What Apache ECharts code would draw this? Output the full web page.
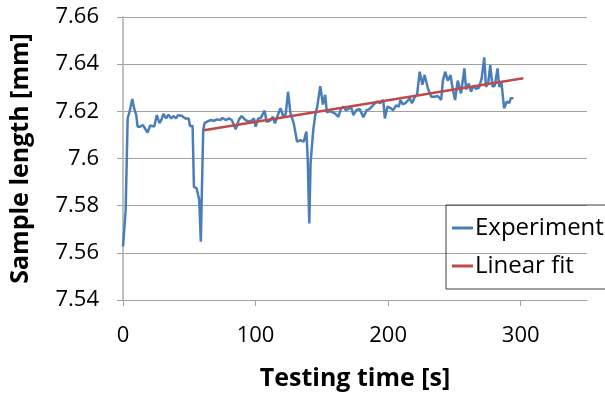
<!DOCTYPE html>
<html>
<head>
<meta charset="utf-8">
<script src="https://cdn.jsdelivr.net/npm/echarts@6/dist/echarts.min.js"></script>
<style>
  html, body { margin: 0; padding: 0; background: #fff; }
  #chart { width: 605px; height: 396px; }
</style>
</head>
<body>
<div id="chart"></div>
<script>
// testing time [s]
const timeData = [
  0, 2, 3.5, 5, 7, 8.5, 10, 11, 13, 15, 16.5, 18.5, 20.5, 22, 23.5, 25.5, 27.5, 29, 30.5, 32.5,
  34.3, 36.3, 38, 40, 41.5, 43, 44.5, 47, 49.5, 50.5, 52.5, 53.5, 55.5, 57.5, 58.7, 60.5, 61.5, 63.5,
  66, 68.5, 71, 73.5, 75, 77.5, 80, 82, 83.7, 85, 87.5, 89.5, 92.5, 95, 97, 98.8, 100, 102, 104,
  106.8, 108.3, 110.8, 113, 114.7, 116.5, 118.8, 121, 122.8, 124.5, 126.3, 128.8, 131.3, 133.8,
  136.3, 138.3, 139.3, 140.5, 141.5, 143.5, 145, 146.5, 148.8, 150.8, 152.5, 153.8, 155.5, 157.5,
  160, 162.5, 164.5, 166.3, 168, 170, 172, 173.8, 176, 178.5, 180, 181.3, 183.8, 186, 188, 191.3,
  193.8, 196.3, 197.5, 199.5, 201.5, 203.8, 206, 208, 209.3, 211, 213, 216.3, 218, 220, 221.8,
  223.8, 225.8, 227.5, 230, 232.5, 235, 237.5, 240, 241.3, 243, 245, 247, 248.8, 250.5, 252.5,
  255, 257.5, 258.8, 260.8, 262.5, 264.5, 266.3, 268.5, 270.5, 272.5, 273.8, 275.5, 277, 278.8,
  280.5, 282.5, 283.8, 285.5, 287.5, 289.5, 291.3, 292.5, 294.5
];
// sample length [mm]
const lengthData = [
  7.5626, 7.578, 7.617, 7.620, 7.6252, 7.621, 7.6184, 7.6135, 7.6135, 7.6142, 7.6135, 7.611, 7.614,
  7.6142, 7.6135, 7.6184, 7.615, 7.6165, 7.6189, 7.617, 7.6186, 7.617, 7.618, 7.617, 7.6184, 7.6182,
  7.618, 7.617, 7.617, 7.6138, 7.6138, 7.588, 7.5874, 7.5824, 7.5647, 7.6121, 7.615, 7.6156, 7.6163,
  7.616, 7.6166, 7.6163, 7.6172, 7.6163, 7.617, 7.6163, 7.6142, 7.6124, 7.6166, 7.618, 7.6163,
  7.6156, 7.616, 7.617, 7.6135, 7.617, 7.6172, 7.6203, 7.6156, 7.616, 7.6177, 7.6149, 7.618, 7.6213,
  7.6177, 7.619, 7.6283, 7.6192, 7.6149, 7.6071, 7.6078, 7.6071, 7.6114, 7.6008, 7.5725, 7.598,
  7.612, 7.6184, 7.622, 7.6307, 7.6229, 7.627, 7.6195, 7.62, 7.6198, 7.619, 7.6177, 7.6213, 7.6219,
  7.6205, 7.621, 7.622, 7.6184, 7.6205, 7.621, 7.6215, 7.6175, 7.6205, 7.621, 7.6222, 7.6241,
  7.6235, 7.6248, 7.617, 7.622, 7.6215, 7.6205, 7.6225, 7.622, 7.6248, 7.623, 7.6235, 7.6255,
  7.6234, 7.626, 7.627, 7.6368, 7.6313, 7.6354, 7.6297, 7.6262, 7.6262, 7.6265, 7.6248, 7.633,
  7.6368, 7.633, 7.6354, 7.6293, 7.6248, 7.633, 7.6276, 7.6382, 7.6293, 7.6318, 7.6283, 7.631,
  7.6295, 7.63, 7.6339, 7.6429, 7.6304, 7.632, 7.6396, 7.6304, 7.631, 7.6382, 7.6304, 7.632,
  7.6213, 7.6242, 7.6235, 7.6255, 7.6255
];
// linear fit end points
const fitTime = [61, 302];
const fitLength = [7.612, 7.634];

const xTicks = [0, 100, 200, 300];

const font = "'Open Sans', 'DejaVu Sans', sans-serif";

function pairs(xs, ys) {
  let out = [];
  for (let i = 0; i < xs.length; i++) out.push([xs[i], ys[i]]);
  return out;
}

const chart = echarts.init(document.getElementById("chart"), null, { renderer: "canvas" });

chart.setOption({
  animation: false,
  backgroundColor: "#ffffff",
  grid: { left: 120, right: 18, top: 17, bottom: 96 },
  legend: {
    orient: "vertical",
    left: 446,
    top: 205,
    data: ["Experiment", "Linear fit"],
    icon: "rect",
    itemWidth: 21,
    itemHeight: 3,
    itemGap: 14,
    padding: [11, 40, 11, 6],
    borderColor: "#404040",
    borderWidth: 1,
    textStyle: { fontFamily: font, fontSize: 24, color: "#000", padding: [0, 0, 0, -3] }
  },
  xAxis: {
    type: "value",
    min: 0,
    max: 350,
    interval: 100,
    name: "Testing time [s]",
    nameLocation: "middle",
    nameGap: 66,
    nameTextStyle: { fontFamily: font, fontSize: 25, fontWeight: "bold", color: "#000" },
    axisLine: { show: true, onZero: false, lineStyle: { color: "#a0a0a0", width: 1 } },
    axisTick: { show: true, length: 6, customValues: xTicks, lineStyle: { color: "#a0a0a0" } },
    axisLabel: {
      customValues: xTicks,
      margin: 25,
      fontFamily: font,
      fontSize: 22,
      color: "#000"
    },
    splitLine: { show: false }
  },
  yAxis: {
    type: "value",
    min: 7.54,
    max: 7.66,
    interval: 0.02,
    name: "Sample length [mm]",
    nameLocation: "middle",
    nameGap: 90,
    nameTextStyle: { fontFamily: font, fontSize: 25, fontWeight: "bold", color: "#000" },
    axisLine: { show: true, lineStyle: { color: "#c0c0c0", width: 2 } },
    axisTick: { show: true, length: 6, lineStyle: { color: "#a0a0a0" } },
    axisLabel: {
      margin: 24,
      fontFamily: font,
      fontSize: 22,
      color: "#000",
      formatter: v => String(Math.round(v * 100) / 100)
    },
    splitLine: { show: true, lineStyle: { color: "#a0a0a0", width: 1 } }
  },
  series: [
    {
      name: "Experiment",
      type: "line",
      data: pairs(timeData, lengthData),
      showSymbol: false,
      color: "#4a7ebb",
      lineStyle: { color: "#4a7ebb", width: 2.5 },
      z: 3
    },
    {
      name: "Linear fit",
      type: "line",
      data: pairs(fitTime, fitLength),
      showSymbol: false,
      color: "#be4b48",
      lineStyle: { color: "#be4b48", width: 2.5 },
      z: 4
    }
  ]
});
</script>
</body>
</html>
